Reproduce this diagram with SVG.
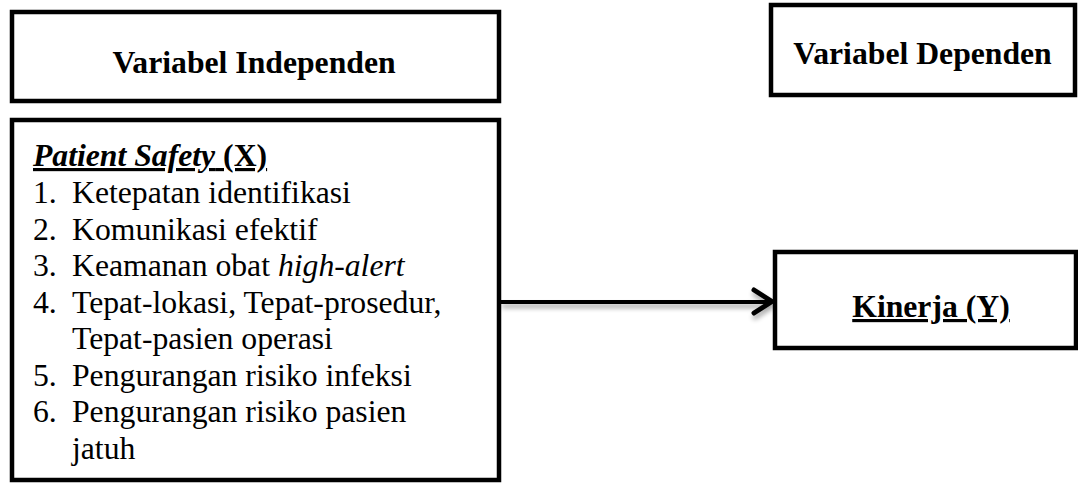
<svg xmlns="http://www.w3.org/2000/svg" width="1078" height="484" viewBox="0 0 1078 484">
<style>
.box{fill:#fff;stroke:#000;stroke-width:4.5}
.t{font-size:31.7px;fill:#000}
.b{font-weight:bold}
.i{font-style:italic}
.u{text-decoration:underline}
</style>
<defs>
<filter id="sh" x="-5%" y="-200%" width="110%" height="500%">
<feGaussianBlur in="SourceAlpha" stdDeviation="2.5"/>
<feOffset dx="1" dy="4"/>
<feComponentTransfer><feFuncA type="linear" slope="0.35"/></feComponentTransfer>
<feMerge><feMergeNode/><feMergeNode in="SourceGraphic"/></feMerge>
</filter>
</defs>
<rect width="1078" height="484" fill="#fff"/>
<g id="connectors" filter="url(#sh)">
<line x1="501" y1="302" x2="770" y2="302" stroke="#000" stroke-width="4"/>
<polyline points="754,290 772,301.5 754,313" fill="none" stroke="#000" stroke-width="5" stroke-linecap="round" stroke-linejoin="round"/>
</g>
<g font-family="'Liberation Serif', 'Times New Roman', serif">
<g id="independen">
<rect class="box" x="12" y="12" width="487" height="89"/>
<text class="t b" x="254" y="73" text-anchor="middle">Variabel Independen</text>
</g>
<g id="dependen">
<rect class="box" x="771" y="5" width="304" height="90"/>
<text class="t b" x="922.5" y="64" text-anchor="middle">Variabel Dependen</text>
</g>
<g id="patient-safety">
<rect class="box" x="12" y="120" width="487" height="360"/>
<text class="t b u" x="33" y="166"><tspan class="i">Patient Safety</tspan> (X)</text>
<text class="t" x="33" y="203">1.</text><text class="t" x="72" y="203">Ketepatan identifikasi</text>
<text class="t" x="33" y="239.5">2.</text><text class="t" x="72" y="239.5">Komunikasi efektif</text>
<text class="t" x="33" y="276">3.</text><text class="t" x="72" y="276">Keamanan obat <tspan class="i">high-alert</tspan></text>
<text class="t" x="33" y="312.5">4.</text><text class="t" x="72" y="312.5">Tepat-lokasi, Tepat-prosedur,</text>
<text class="t" x="72" y="349">Tepat-pasien operasi</text>
<text class="t" x="33" y="385.5">5.</text><text class="t" x="72" y="385.5">Pengurangan risiko infeksi</text>
<text class="t" x="33" y="422">6.</text><text class="t" x="72" y="422">Pengurangan risiko pasien</text>
<text class="t" x="72" y="458.5">jatuh</text>
</g>
<g id="kinerja">
<rect class="box" x="775" y="252" width="301" height="96"/>
<text class="t b u" x="931" y="317" text-anchor="middle">Kinerja (Y)</text>
</g>
</g>
</svg>
